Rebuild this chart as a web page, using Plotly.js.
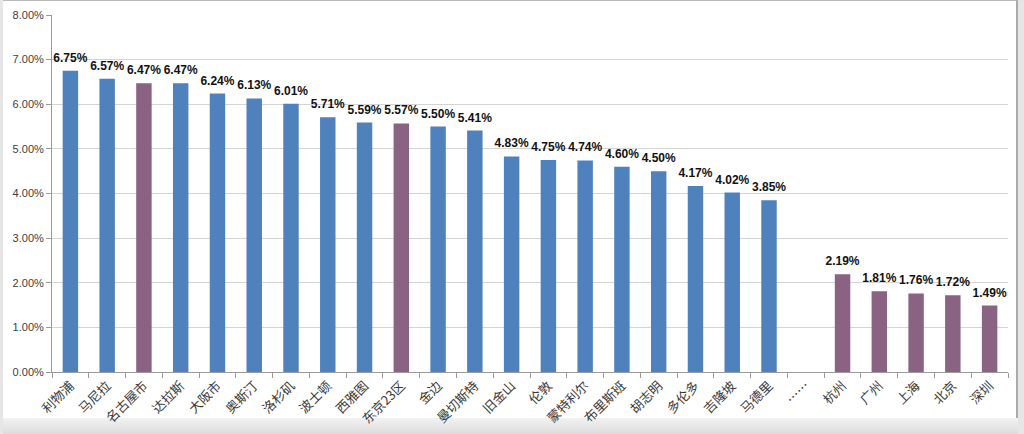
<!DOCTYPE html>
<html>
<head>
<meta charset="utf-8">
<script src="https://cdn.plot.ly/plotly-3.0.1.min.js"></script>
<style>
  html, body { margin: 0; padding: 0; width: 1024px; height: 434px; overflow: hidden; background: #e6e6e6; }
  #frame { position: absolute; left: 3px; top: 0; width: 1015px; height: 418px; background: #ffffff;
           border-top: 1px solid #b8b8b8; border-right: 2px solid #a8aba8; box-sizing: border-box; }
  #bottom { position: absolute; left: 3px; top: 418px; width: 1015px; height: 16px;
            background: linear-gradient(#f2f2f2, #dcdcdc); }
  #chart { position: absolute; left: 0; top: 0; width: 1024px; height: 434px; }
</style>
</head>
<body>
<div id="frame"></div>
<div id="bottom"></div>
<div id="chart"></div>
<script>
const categories = ["利物浦","马尼拉","名古屋市","达拉斯","大阪市","奥斯汀","洛杉矶","波士顿","西雅图","东京23区",
  "金边","曼切斯特","旧金山","伦敦","蒙特利尔","布里斯班","胡志明","多伦多","吉隆坡","马德里",
  "……","杭州","广州","上海","北京","深圳"];
const values = [6.75,6.57,6.47,6.47,6.24,6.13,6.01,5.71,5.59,5.57,
  5.50,5.41,4.83,4.75,4.74,4.60,4.50,4.17,4.02,3.85,
  null,2.19,1.81,1.76,1.72,1.49];
const highlighted = ["名古屋市","东京23区","杭州","广州","上海","北京","深圳"];
const yTicks = [0,1,2,3,4,5,6,7,8];

const BLUE = "#4f81bd", PURPLE = "#8a6383";
const colors = categories.map(c => highlighted.includes(c) ? PURPLE : BLUE);
const labels = values.map(v => v === null ? "" : v.toFixed(2) + "%");

Plotly.newPlot("chart", [{
  type: "bar",
  x: categories,
  y: values,
  marker: { color: colors },
  width: 0.42,
  hoverinfo: "none"
}, {
  type: "scatter",
  mode: "markers+text",
  x: categories,
  y: values,
  text: labels,
  textposition: "top center",
  marker: { size: 8, opacity: 0 },
  cliponaxis: false,
  textfont: { family: "Liberation Sans, Arial, sans-serif", size: 12, color: "#111111", weight: "bold" },
  hoverinfo: "none"
}], {
  width: 1024, height: 434,
  margin: { l: 52, r: 16, t: 15, b: 62 },
  paper_bgcolor: "rgba(0,0,0,0)",
  plot_bgcolor: "rgba(0,0,0,0)",
  showlegend: false,
  font: { family: "Liberation Sans, Arial, sans-serif" },
  xaxis: {
    type: "category",
    range: [-0.5, categories.length - 0.5],
    tickangle: -45,
    tickfont: { family: "Noto Sans CJK SC, sans-serif", size: 13, color: "#3a3a3a" },
    ticks: "outside", tickson: "boundaries", ticklen: 5, tickcolor: "#9a9a9a",
    showline: true, linecolor: "#9a9a9a", linewidth: 1,
    showgrid: false, fixedrange: true
  },
  yaxis: {
    range: [0, 8],
    tickvals: yTicks,
    ticktext: yTicks.map(t => t.toFixed(2) + "%"),
    tickfont: { family: "Liberation Sans, Arial, sans-serif", size: 11, color: "#404040" },
    ticks: "outside", ticklen: 5, tickcolor: "#9a9a9a",
    showline: true, linecolor: "#9a9a9a", linewidth: 1,
    showgrid: true, gridcolor: "#d4d4d4", gridwidth: 1,
    zeroline: false, fixedrange: true
  },
  bargap: 0.58
}, { displayModeBar: false, staticPlot: true });
</script>
</body>
</html>
